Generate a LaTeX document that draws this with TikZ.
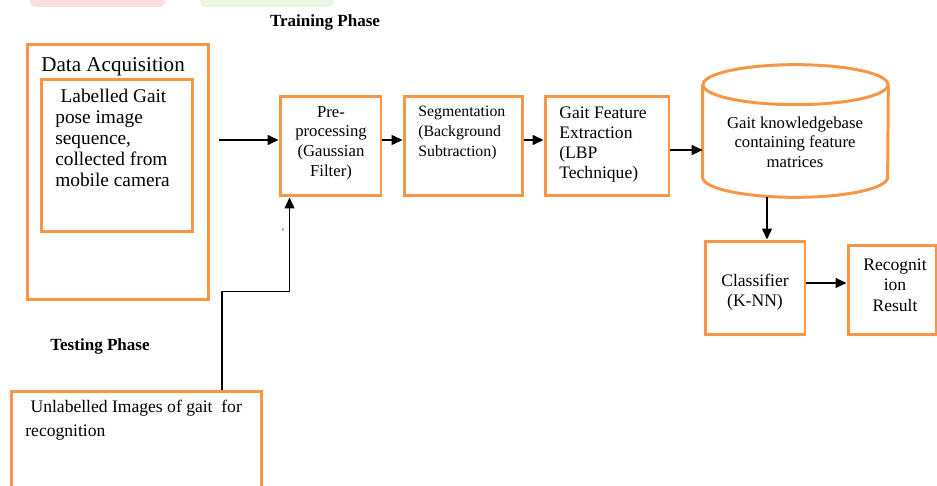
\documentclass[tikz,border=0pt]{standalone}
\usepackage{fontspec}
\setmainfont{Liberation Serif}
\usetikzlibrary{arrows.meta, positioning, shapes.geometric}
\definecolor{boxorange}{RGB}{247,150,70}
\definecolor{bandpink}{RGB}{251,222,222}
\definecolor{bandgreen}{RGB}{234,246,226}

\begin{document}
\begin{tikzpicture}[
    x=0.02cm, y=-0.02cm,
    box/.style={rectangle, draw=boxorange, line width=1.7pt, inner sep=0pt},
    cyl/.style={draw=boxorange, line width=1.7pt},
    txt/.style={inner sep=0pt, align=center, font=\fontsize{9.5}{11.2}\selectfont},
    ltxt/.style={inner sep=0pt, anchor=north west, align=left},
    phase/.style={inner sep=0pt, font=\fontsize{9.7}{11}\selectfont\bfseries},
    arr/.style={-{Triangle[length=2.2mm, width=2mm]}, line width=0.8pt}
]
\useasboundingbox (0,0) rectangle (937,486);
% faint bands at the top edge
\fill[bandpink, rounded corners=3pt] (30,-5) rectangle (165,7);
\fill[bandgreen, rounded corners=3pt] (200,-5) rectangle (334,7);

\node[phase] (train) at (325,22) {Training Phase};
\node[phase] (test) at (100,346) {Testing Phase};

% training input
\node[box, minimum width=3.64cm, minimum height=5.12cm] (acq) at (118,172) {};
\node[ltxt, anchor=base west, font=\fontsize{12}{14}\selectfont] (acqtitle) at (41,72) {Data Acquisition};
\node[box, minimum width=3.04cm, minimum height=3.06cm] (acqin) at (117,155.5) {};
\node[ltxt, font=\fontsize{11}{11.9}\selectfont] (acqtxt) at (55,89)
    {\hspace{3pt}Labelled Gait\\pose image\\sequence,\\collected from\\mobile camera};

% processing chain
\node[box, minimum width=2.02cm, minimum height=2cm] (pre) at (330.5,146) {};
\node[txt] (pretxt) at (331,143) {Pre-\\processing\\(Gaussian\\Filter)};
\node[box, minimum width=2.38cm, minimum height=2cm] (seg) at (463.5,146) {};
\node[ltxt, font=\fontsize{9}{11.3}\selectfont] (segtxt) at (418,106) {Segmentation\\(Background\\Subtraction)};
\node[box, minimum width=2.48cm, minimum height=2cm] (feat) at (607,146) {};
\node[ltxt, font=\fontsize{10}{11.3}\selectfont] (feattxt) at (559,107) {Gait Feature\\Extraction\\(LBP\\Technique)};

% knowledge base (cylinder)
\node[minimum width=3.7cm, minimum height=2.64cm, inner sep=0pt] (kb) at (795.5,131) {};
\draw[cyl] ([yshift=-0.4cm]kb.north) ellipse [x radius=1.85cm, y radius=0.4cm];
\draw[cyl] ([yshift=-0.4cm]kb.north west) -- ([yshift=0.4cm]kb.south west)
    arc[start angle=180, end angle=360, x radius=1.85cm, y radius=0.4cm] -- ([yshift=-0.4cm]kb.north east);
\node[txt] (kbtxt) at (795,142) {Gait knowledgebase\\containing feature\\matrices};

% recognition
\node[box, minimum width=2cm, minimum height=1.88cm] (cls) at (755,288) {};
\node[txt, font=\fontsize{10}{11.3}\selectfont] (clstxt) at (755,292) {Classifier\\(K-NN)};
\node[box, minimum width=1.76cm, minimum height=1.8cm] (res) at (892,290) {};
\node[txt, font=\fontsize{10}{11.6}\selectfont] (restxt) at (895,285) {Recognit\\ion\\Result};

% testing input
\node[box, minimum width=5.02cm, minimum height=2.2cm] (unl) at (136.5,446) {};
\node[ltxt, font=\fontsize{10}{13.6}\selectfont] (unltxt) at (25,400)
    {\hspace{3pt}Unlabelled Images of gait\ \ for\\recognition};
\node[inner sep=0pt, font=\tiny] (tick) at (283,232) {`};

% connectors
\coordinate (acqout) at ([xshift=0.18cm]acq.east);
\coordinate (prein) at ([yshift=0.12cm]pre.west);
\draw[arr] (acqout |- prein) -- (prein);
\draw[arr] ([yshift=0.12cm]pre.east) -- ([yshift=0.12cm]seg.west);
\draw[arr] ([yshift=0.12cm]seg.east) -- ([yshift=0.12cm]feat.west);
\coordinate (featout) at ([yshift=-0.08cm]feat.east);
\draw[arr] (featout) -- (featout -| kb.west);
\coordinate (clsin) at ([xshift=0.24cm]cls.north);
\draw[arr] (kb.south -| clsin) -- (clsin);
\coordinate (clsout) at ([yshift=0.1cm]cls.east);
\draw[arr] (clsout) -- (clsout -| res.west);
\draw[arr, line width=0.6pt] ([xshift=1.71cm]unl.north) -- ++(0,1.96cm) -| ([xshift=-0.82cm]pre.south);
\end{tikzpicture}
\end{document}
